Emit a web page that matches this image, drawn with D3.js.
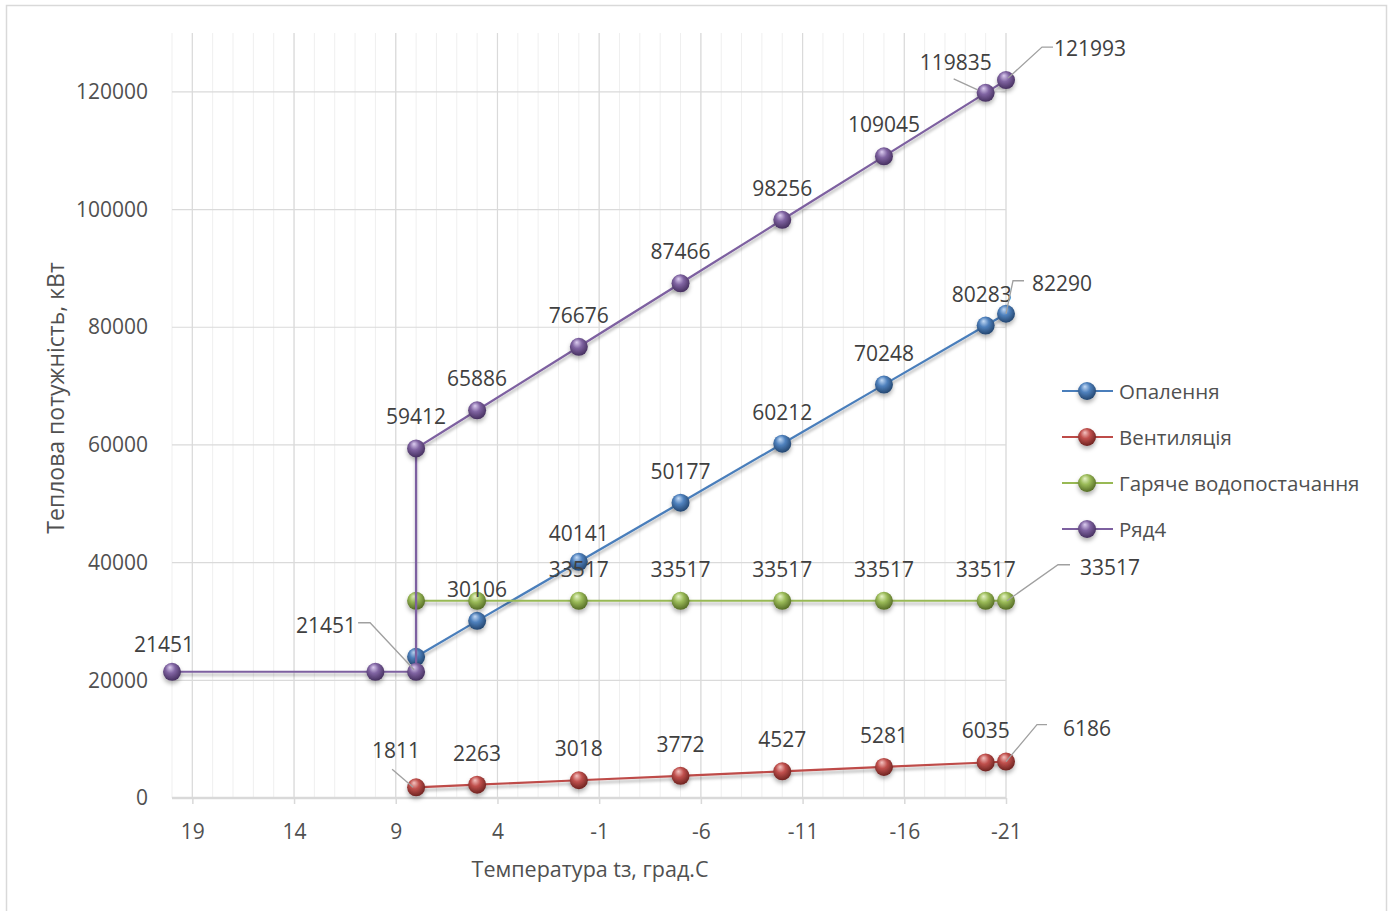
<!DOCTYPE html>
<html>
<head>
<meta charset="utf-8">
<script src="https://cdn.jsdelivr.net/npm/d3@7"></script>
<style>
  html, body { margin: 0; padding: 0; background: #fff; }
  svg { display: block; font-family: "Open Sans", "Noto Sans", sans-serif; }
</style>
</head>
<body>
<svg id="chart" width="1393" height="911"></svg>
<script>
// Outdoor temperature (°C) for each series
const tempsHeating = [8, 5, 0, -5, -10, -15, -20, -21];
const tempsVent    = [8, 5, 0, -5, -10, -15, -20, -21];
const tempsHotWater = [8, 5, 0, -5, -10, -15, -20, -21];
const tempsTotal   = [20, 10, 8, 8, 5, 0, -5, -10, -15, -20, -21];

// Heat load, kW
const heating  = [24000, 30106, 40141, 50177, 60212, 70248, 80283, 82290];
const vent     = [1811, 2263, 3018, 3772, 4527, 5281, 6035, 6186];
const hotWater = [33517, 33517, 33517, 33517, 33517, 33517, 33517, 33517];
const total    = [21451, 21451, 21451, 59412, 65886, 76676, 87466, 98256, 109045, 119835, 121993];

const seriesNames = ["Опалення", "Вентиляція", "Гаряче водопостачання", "Ряд4"];

// Axis ticks
const xTicks = [19, 14, 9, 4, -1, -6, -11, -16, -21];
const yTicks = [0, 20000, 40000, 60000, 80000, 100000, 120000];

// Which points carry a value label, with the label placement (pixel offsets from the point)
// and optional leader line vertices.
const labelSpec = [
  [ {i:1}, {i:2, dy:-29}, {i:3}, {i:4}, {i:5}, {i:6, dx:-4},
    {i:7, dx:56, dy:-31, leader:[[18,-33],[7,-33],[0,0]]} ],
  [ {i:0, dx:-20, dy:-37, leader:[[-24,-18],[-3,0]]}, {i:1}, {i:2}, {i:3}, {i:4}, {i:5}, {i:6},
    {i:7, dx:81, dy:-34, leader:[[41,-37],[31,-37],[0,0]]} ],
  [ {i:2}, {i:3}, {i:4}, {i:5}, {i:6},
    {i:7, dx:104, dy:-34, leader:[[64,-36],[52,-36],[1,0]]} ],
  [ {i:0, dx:-8, dy:-28}, {i:2, dx:-90, dy:-47, leader:[[-58,-49],[-46,-49],[-2,-2]]},
    {i:3}, {i:4}, {i:5}, {i:6}, {i:7}, {i:8},
    {i:9, dx:-30, dy:-31, leader:[[-32,-14],[-8,-3]]},
    {i:10, dx:84, dy:-32, leader:[[47,-33],[36,-33],[2,-2]]} ]
];

const palette = [
  {line: "#4A7EBB", base: "#4F81BD", light: "#c4dbf6", dark: "#24466f"},
  {line: "#BE4B48", base: "#C0504D", light: "#f4c3c1", dark: "#6e2320"},
  {line: "#98B954", base: "#9BBB59", light: "#e6f3c7", dark: "#566d26"},
  {line: "#7D60A0", base: "#8064A2", light: "#dccdf0", dark: "#46305f"}
];

const series = [
  {x: tempsHeating, y: heating},
  {x: tempsVent, y: vent},
  {x: tempsHotWater, y: hotWater},
  {x: tempsTotal, y: total}
];

const svg = d3.select("#chart");
const plot = {left: 172, right: 1006, top: 33, bottom: 798};

const x = d3.scaleLinear().domain([20, -21]).range([plot.left, plot.right]);
const y = d3.scaleLinear().domain([0, 130000]).range([plot.bottom, plot.top]);

const defs = svg.append("defs");
palette.forEach((c, k) => {
  const g = defs.append("radialGradient").attr("id", "ball" + k)
    .attr("cx", "45%").attr("cy", "40%").attr("r", "60%").attr("fx", "38%").attr("fy", "25%");
  g.append("stop").attr("offset", "0%").attr("stop-color", c.light);
  g.append("stop").attr("offset", "45%").attr("stop-color", c.base);
  g.append("stop").attr("offset", "100%").attr("stop-color", c.dark);
});
// Shadow filters work in user space so flat (zero-height) paths still render
const ls = defs.append("filter").attr("id", "lineShadow").attr("filterUnits", "userSpaceOnUse")
  .attr("x", 0).attr("y", 0).attr("width", 1393).attr("height", 911);
ls.append("feDropShadow").attr("dx", 0).attr("dy", 3).attr("stdDeviation", 1.6)
  .attr("flood-color", "#000").attr("flood-opacity", 0.3);
const ms = defs.append("filter").attr("id", "markShadow")
  .attr("x", "-60%").attr("y", "-60%").attr("width", "220%").attr("height", "240%");
ms.append("feDropShadow").attr("dx", 0).attr("dy", 3).attr("stdDeviation", 2)
  .attr("flood-color", "#000").attr("flood-opacity", 0.3);

// Chart frame
svg.append("rect").attr("x", 6.5).attr("y", 5.5).attr("width", 1380).attr("height", 920)
  .attr("fill", "#fff").attr("stroke", "#d9d9d9").attr("stroke-width", 1.5);

// Gridlines
const grid = svg.append("g");
grid.selectAll(".minor").data(d3.range(20, -22, -1)).join("line")
  .attr("x1", d => x(d)).attr("x2", d => x(d))
  .attr("y1", plot.top).attr("y2", plot.bottom)
  .attr("stroke", "#efefef").attr("stroke-width", 1);
grid.selectAll(".major").data(xTicks).join("line")
  .attr("x1", d => x(d)).attr("x2", d => x(d))
  .attr("y1", plot.top).attr("y2", plot.bottom)
  .attr("stroke", "#dadada").attr("stroke-width", 1.2);
grid.selectAll(".hy").data(yTicks.slice(1)).join("line")
  .attr("x1", plot.left).attr("x2", plot.right)
  .attr("y1", d => y(d)).attr("y2", d => y(d))
  .attr("stroke", "#dadada").attr("stroke-width", 1.2);

const fmt = d => String(d);

// X axis
const xAxis = d3.axisBottom(x).tickValues(xTicks).tickSize(6).tickPadding(20).tickFormat(fmt);
const gx = svg.append("g").attr("transform", `translate(0,${plot.bottom})`).call(xAxis);
gx.select(".domain").attr("stroke", "#d9d9d9").attr("stroke-width", 2.5)
  .attr("d", `M${plot.left},0H${plot.right}`);
gx.selectAll(".tick line").attr("stroke", "#d9d9d9").attr("stroke-width", 1.5);
gx.selectAll(".tick text").attr("fill", "#505050").attr("font-size", 21)
  .attr("font-family", "'Open Sans', sans-serif");

// Y axis
const yAxis = d3.axisLeft(y).tickValues(yTicks).tickSize(0).tickPadding(24).tickFormat(fmt);
const gy = svg.append("g").attr("transform", `translate(${plot.left},0)`).call(yAxis);
gy.select(".domain").remove();
gy.selectAll(".tick text").attr("fill", "#505050").attr("font-size", 21)
  .attr("font-family", "'Open Sans', sans-serif");

// Axis titles
svg.append("text").attr("x", 590).attr("y", 868).attr("text-anchor", "middle")
  .attr("dominant-baseline", "central")
  .attr("font-size", 21.5).attr("fill", "#505050").text("Температура tз, град.С");
svg.append("text").attr("transform", "translate(55,398) rotate(-90)").attr("text-anchor", "middle")
  .attr("dominant-baseline", "central")
  .attr("font-size", 23).attr("fill", "#505050").text("Теплова потужність, кВт");

// Series: line then spheres, in series order
const lineGen = d3.line().x(d => x(d[0])).y(d => y(d[1]));
series.forEach((s, k) => {
  const pts = s.x.map((t, i) => [t, s.y[i]]);
  const g = svg.append("g");
  g.append("path").datum(pts).attr("d", lineGen).attr("fill", "none")
    .attr("stroke", palette[k].line).attr("stroke-width", 2.2).attr("filter", "url(#lineShadow)");
  g.selectAll("circle").data(pts).join("circle")
    .attr("cx", d => x(d[0])).attr("cy", d => y(d[1])).attr("r", 9)
    .attr("fill", `url(#ball${k})`).attr("filter", "url(#markShadow)");
});

// Value labels with leader lines
series.forEach((s, k) => {
  const g = svg.append("g");
  labelSpec[k].forEach(l => {
    const px = x(s.x[l.i]), py = y(s.y[l.i]);
    const dx = l.dx ?? 0, dy = l.dy ?? -32;
    if (l.leader) {
      g.append("polyline")
        .attr("points", l.leader.map(p => `${px + p[0]},${py + p[1]}`).join(" "))
        .attr("fill", "none").attr("stroke", "#a0a0a0").attr("stroke-width", 1.3);
    }
    g.append("text").attr("x", px + dx).attr("y", py + dy).attr("text-anchor", "middle")
      .attr("dominant-baseline", "central").attr("font-size", 21).attr("fill", "#404040")
      .text(s.y[l.i]);
  });
});

// Legend
const legend = svg.append("g").attr("transform", "translate(1062,391)");
seriesNames.forEach((name, k) => {
  const row = legend.append("g").attr("transform", `translate(0,${k * 46})`);
  row.append("line").attr("x1", 0).attr("x2", 51).attr("stroke", palette[k].line).attr("stroke-width", 2);
  row.append("circle").attr("cx", 25).attr("r", 9).attr("fill", `url(#ball${k})`).attr("filter", "url(#markShadow)");
  row.append("text").attr("x", 57).attr("dominant-baseline", "central")
    .attr("font-size", 20.5).attr("fill", "#505050").text(name);
});
</script>
</body>
</html>
